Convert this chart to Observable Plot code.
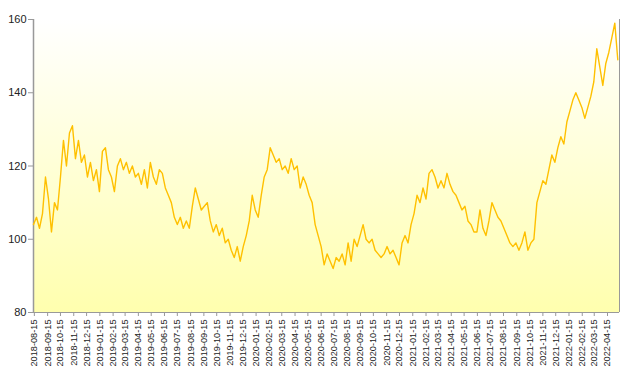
<!DOCTYPE html>
<html>
<head>
<meta charset="utf-8">
<script src="https://cdn.jsdelivr.net/npm/d3@7"></script>
<script src="https://cdn.jsdelivr.net/npm/@observablehq/plot@0.6"></script>
<style>
  html, body { margin: 0; padding: 0; background: #ffffff; }
  #chart svg { display: block; }
</style>
</head>
<body>
<div id="chart"></div>
<script>
// Weekly observations starting on this date
const startDate = "2018-08-13";
const stepDays = 7;
const values = [
  104, 106, 103, 107, 117, 111, 102, 110, 108, 117,
  127, 120, 129, 131, 122, 127, 121, 123, 117, 121,
  116, 119, 113, 124, 125, 119, 117, 113, 120, 122,
  119, 121, 118, 120, 117, 118, 115, 119, 114, 121,
  117, 115, 119, 118, 114, 112, 110, 106, 104, 106,
  103, 105, 103, 109, 114, 111, 108, 109, 110, 105,
  102, 104, 101, 103, 99, 100, 97, 95, 98, 94,
  98, 101, 105, 112, 108, 106, 112, 117, 119, 125,
  123, 121, 122, 119, 120, 118, 122, 119, 120, 114,
  117, 115, 112, 110, 104, 101, 98, 93, 96, 94,
  92, 95, 94, 96, 93, 99, 94, 100, 98, 101,
  104, 100, 99, 100, 97, 96, 95, 96, 98, 96,
  97, 95, 93, 99, 101, 99, 104, 107, 112, 110,
  114, 111, 118, 119, 117, 114, 116, 114, 118, 115,
  113, 112, 110, 108, 109, 105, 104, 102, 102, 108,
  103, 101, 105, 110, 108, 106, 105, 103, 101, 99,
  98, 99, 97, 99, 102, 97, 99, 100, 110, 113,
  116, 115, 119, 123, 121, 125, 128, 126, 132, 135,
  138, 140, 138, 136, 133, 136, 139, 143, 152, 147,
  142, 148, 151, 155, 159, 149
];
const tickLabels = [
  "2018-08-15","2018-09-15","2018-10-15","2018-11-15","2018-12-15",
  "2019-01-15","2019-02-15","2019-03-15","2019-04-15","2019-05-15","2019-06-15",
  "2019-07-15","2019-08-15","2019-09-15","2019-10-15","2019-11-15","2019-12-15",
  "2020-01-15","2020-02-15","2020-03-15","2020-04-15","2020-05-15","2020-06-15",
  "2020-07-15","2020-08-15","2020-09-15","2020-10-15","2020-11-15","2020-12-15",
  "2021-01-15","2021-02-15","2021-03-15","2021-04-15","2021-05-15","2021-06-15",
  "2021-07-15","2021-08-15","2021-09-15","2021-10-15","2021-11-15","2021-12-15",
  "2022-01-15","2022-02-15","2022-03-15","2022-04-15"
];
const yTicks = [80, 100, 120, 140, 160];
const xDomain = ["2018-08-13", "2022-05-13"];

const parse = d3.utcParse("%Y-%m-%d");
const fmt = d3.utcFormat("%Y-%m-%d");
const start = parse(startDate);
const data = values.map((v, i) => ({date: d3.utcDay.offset(start, i * stepDays), value: v}));

const plot = Plot.plot({
  width: 632,
  height: 378,
  marginLeft: 33,
  marginRight: 13,
  marginTop: 19,
  marginBottom: 66,
  style: {fontFamily: "'Liberation Sans', Arial, sans-serif", fontSize: "11px", color: "#222", background: "#ffffff"},
  x: {type: "utc", domain: xDomain.map(parse)},
  y: {domain: [80, 160]},
  marks: [
    Plot.frame({fill: "url(#bgGrad)", stroke: null}),
    Plot.ruleY([80], {stroke: "#999", strokeWidth: 1}),
    Plot.ruleX([parse(xDomain[0])], {stroke: "#999", strokeWidth: 1.5}),
    Plot.axisY({ticks: yTicks, tickSize: 5, tickPadding: 2, stroke: "#999", strokeOpacity: 1, fontSize: 11, label: null}),
    Plot.axisX({ticks: tickLabels.map(parse), tickFormat: fmt, tickSize: 4, tickPadding: 3, tickRotate: -90, stroke: "#999", strokeOpacity: 1, fontSize: 9.2, label: null}),
    Plot.tickX([parse(xDomain[1])], {y1: 80, y2: 80, stroke: "#999"}),
    Plot.line(data, {x: "date", y: "value", stroke: "#FFC000", strokeWidth: 1.4, curve: "linear"})
  ]
});

// gradient background of the plot area
const svgNS = "http://www.w3.org/2000/svg";
const defs = document.createElementNS(svgNS, "defs");
const grad = document.createElementNS(svgNS, "linearGradient");
grad.setAttribute("id", "bgGrad");
grad.setAttribute("x1", "0"); grad.setAttribute("y1", "0");
grad.setAttribute("x2", "0"); grad.setAttribute("y2", "1");
[["0", "#FFFFFF"], ["1", "#FFFFAE"]].forEach(([o, c]) => {
  const s = document.createElementNS(svgNS, "stop");
  s.setAttribute("offset", o); s.setAttribute("stop-color", c);
  grad.appendChild(s);
});
defs.appendChild(grad);
plot.insertBefore(defs, plot.firstChild);

document.getElementById("chart").appendChild(plot);
</script>
</body>
</html>
